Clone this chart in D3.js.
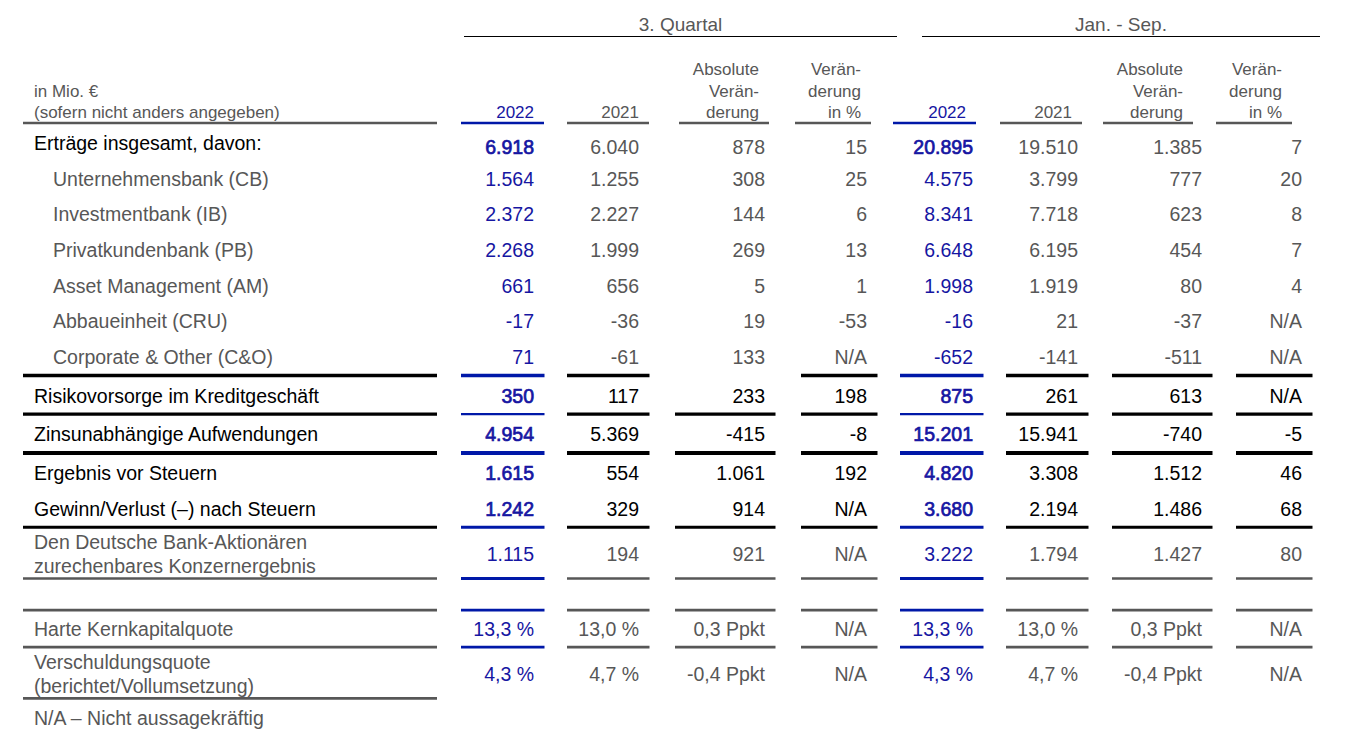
<!DOCTYPE html>
<html><head><meta charset="utf-8">
<script src="https://cdn.jsdelivr.net/npm/d3@7"></script>
<style>html,body{margin:0;padding:0;background:#fff;} svg{display:block;font-family:"Liberation Sans",Arial,sans-serif;}</style>
</head><body><svg id="chart" width="1360" height="737"></svg>
<script>
// ---------------- DATA ----------------
const groups = ["3. Quartal", "Jan. - Sep."];
const columnHeaders = [["2022"], ["2021"], ["Absolute", "Verän-", "derung"], ["Verän-", "derung", "in %"]];
const unitNote = ["in Mio. €", "(sofern nicht anders angegeben)"];
const categories = [
  "Erträge insgesamt, davon:",
  "Unternehmensbank (CB)",
  "Investmentbank (IB)",
  "Privatkundenbank (PB)",
  "Asset Management (AM)",
  "Abbaueinheit (CRU)",
  "Corporate & Other (C&O)",
  "Risikovorsorge im Kreditgeschäft",
  "Zinsunabhängige Aufwendungen",
  "Ergebnis vor Steuern",
  "Gewinn/Verlust (–) nach Steuern",
  "Den Deutsche Bank-Aktionären\nzurechenbares Konzernergebnis",
  "Harte Kernkapitalquote",
  "Verschuldungsquote\n(berichtet/Vollumsetzung)"
];
// row type: "total", "sub", "main", "minor", "ratio"
const rowType = ["total","sub","sub","sub","sub","sub","sub","main","main","main","main","minor","ratio","ratio"];
const q3_2022  = [6918, 1564, 2372, 2268, 661, -17, 71, 350, 4954, 1615, 1242, 1115, 13.3, 4.3];
const q3_2021  = [6040, 1255, 2227, 1999, 656, -36, -61, 117, 5369, 554, 329, 194, 13.0, 4.7];
const q3_abs   = [878, 308, 144, 269, 5, 19, 133, 233, -415, 1061, 914, 921, 0.3, -0.4];
const q3_pct   = [15, 25, 6, 13, 1, -53, null, 198, -8, 192, null, null, null, null];
const ytd_2022 = [20895, 4575, 8341, 6648, 1998, -16, -652, 875, 15201, 4820, 3680, 3222, 13.3, 4.3];
const ytd_2021 = [19510, 3799, 7718, 6195, 1919, 21, -141, 261, 15941, 3308, 2194, 1794, 13.0, 4.7];
const ytd_abs  = [1385, 777, 623, 454, 80, -37, -511, 613, -740, 1512, 1486, 1427, 0.3, -0.4];
const ytd_pct  = [7, 20, 8, 7, 4, null, null, null, -5, 46, 68, 80, null, null];
const naText = "N/A";
const footnote = "N/A – Nicht aussagekräftig";

// ---------------- LAYOUT / STYLE ----------------
const colKeys = ["q3_2022","q3_2021","q3_abs","q3_pct","ytd_2022","ytd_2021","ytd_abs","ytd_pct"];
const colData = [q3_2022, q3_2021, q3_abs, q3_pct, ytd_2022, ytd_2021, ytd_abs, ytd_pct];
const colKind = ["cur","prev","abs","pct","cur","prev","abs","pct"];
const xData = d3.scaleOrdinal(colKeys, [534, 639, 765, 867, 973, 1078, 1202, 1302]);
const xHead = d3.scaleOrdinal(colKeys, [534, 639, 759, 861, 966, 1072, 1183, 1282]);
const segLeft = {cur: 73, prev: 72, abs: 90, pct: 66};
const headSegLeft = {cur: 73, prev: 72, abs: 80, pct: 66};
const groupSpan = [[464, 897], [922, 1320]];
const labelX = {main: 34, sub: 53};
const labelRule = [23, 437];

const FS = 19.5, FH = 17, FT = 19;
const COL = {black: "#000", gray: "#575757", blue: "#0018a8", blueText: "#1616a2"};

const de = d3.formatLocale({decimal: ",", thousands: ".", grouping: [3], currency: ["", ""], minus: "-"});
const fInt = de.format(",d"), f1 = de.format(",.1f");
function fmt(v, i, kind) {
  if (v === null || v === undefined) return naText;
  if (rowType[i] === "ratio") return kind === "abs" ? f1(v) + " Ppkt" : f1(v) + " %";
  return fInt(v);
}

// rules
const rules = [
  {row: 6, side: "below", color: "black", w: 3.6, bw: 3.6, skip: ["q3_abs"]},
  {row: 7, side: "below", color: "black", w: 3.2, bw: 2.2},
  {row: 8, side: "below", color: "black", w: 4, bw: 4},
  {row: 10, side: "below", color: "black", w: 3, bw: 3},
  {row: 11, side: "below", color: "gray", w: 2.7, bw: 3},
  {row: 12, side: "above", color: "gray", w: 2.7, bw: 2.7},
  {row: 12, side: "below", color: "gray", w: 2.7, bw: 2.7},
  {row: 13, side: "below", color: "gray", w: 2.7, labelOnly: true}
];

const twoLine = i => categories[i].includes("\n");
const ruleBetween = (a, b) => rules.some(r => (r.side === "below" && r.row === a) || (r.side === "above" && r.row === b));
const sectionBreak = i => rules.some(r => r.side === "above" && r.row === i) && rules.some(r => r.side === "below" && r.row === i - 1);

const ys = [];
categories.forEach((c, i) => {
  if (i === 0) { ys.push(146.5); return; }
  let y = ys[i - 1] + 35.7;
  if (rowType[i - 1] === "total") y -= 3.7;
  if (ruleBetween(i - 1, i)) y += 3;
  if (twoLine(i) || twoLine(i - 1)) y += 6.5;
  if (sectionBreak(i)) y += 29.5;
  ys.push(y);
});
const halfH = i => 18.5 + (twoLine(i) ? 6 : 0);
const ruleY = r => r.side === "below" ? ys[r.row] + halfH(r.row) : ys[r.row] - halfH(r.row);

const svg = d3.select("#chart");
svg.append("rect").attr("width", 1360).attr("height", 737).attr("fill", "#fff");

// ---------- group titles ----------
const gT = svg.append("g");
groups.forEach((g, k) => {
  const [a, b] = groupSpan[k];
  gT.append("text").attr("x", (a + b) / 2).attr("y", 30.5).attr("text-anchor", "middle")
    .attr("font-size", FT).attr("fill", COL.gray).text(g);
  gT.append("line").attr("x1", a).attr("x2", b).attr("y1", 36.5).attr("y2", 36.5)
    .attr("stroke", COL.black).attr("stroke-width", 1);
});

// ---------- header ----------
const headBase = 118, headStep = 21.5, headRuleY = 123;
const gH = svg.append("g");
unitNote.forEach((t, j) => {
  gH.append("text").attr("x", labelX.main).attr("y", headBase - (unitNote.length - 1 - j) * headStep)
    .attr("font-size", FH).attr("fill", COL.gray).text(t);
});
gH.append("line").attr("x1", labelRule[0]).attr("x2", labelRule[1]).attr("y1", headRuleY).attr("y2", headRuleY)
  .attr("stroke", COL.gray).attr("stroke-width", 2.3);
colKeys.forEach((k, ci) => {
  const lines = columnHeaders[ci % 4];
  const kind = colKind[ci];
  lines.forEach((t, j) => {
    gH.append("text").attr("x", xHead(k)).attr("y", headBase - (lines.length - 1 - j) * headStep)
      .attr("text-anchor", "end").attr("font-size", FH)
      .attr("fill", kind === "cur" ? COL.blueText : COL.gray).text(t);
  });
  gH.append("line").attr("x1", xHead(k) - headSegLeft[kind]).attr("x2", xHead(k) + 10)
    .attr("y1", headRuleY).attr("y2", headRuleY)
    .attr("stroke", kind === "cur" ? COL.blue : COL.gray).attr("stroke-width", 2.3);
});

// ---------- body rows ----------
const gB = svg.append("g");
const labelColor = t => (t === "total" || t === "main") ? COL.black : COL.gray;
const valueColor = t => t === "main" ? COL.black : COL.gray;
const isBold = t => t === "total" || t === "main";
categories.forEach((c, i) => {
  const t = rowType[i];
  const lines = c.split("\n");
  const lx = t === "sub" ? labelX.sub : labelX.main;
  lines.forEach((ln, j) => {
    const cy = ys[i] + (j - (lines.length - 1) / 2) * 24 - (t === "total" ? 4 : 0);
    gB.append("text").attr("x", lx).attr("y", cy + 0.36 * FS).attr("font-size", FS)
      .attr("fill", labelColor(t)).text(ln);
  });
  colKeys.forEach((k, ci) => {
    const kind = colKind[ci];
    const v = colData[ci][i];
    const bold = kind === "cur" && isBold(t);
    const fill = kind === "cur" ? COL.blueText : valueColor(t);
    gB.append("text").attr("x", xData(k)).attr("y", ys[i] + 0.36 * FS).attr("text-anchor", "end")
      .attr("font-size", FS)
      .attr("fill", fill)
      .attr("stroke", bold ? fill : "none")
      .attr("stroke-width", bold ? 0.7 : 0)
      .text(fmt(v, i, kind));
  });
});

// ---------- rules ----------
const gR = svg.append("g");
rules.forEach(r => {
  const y = ruleY(r);
  const c = COL[r.color];
  gR.append("line").attr("x1", labelRule[0]).attr("x2", labelRule[1]).attr("y1", y).attr("y2", y)
    .attr("stroke", c).attr("stroke-width", r.w);
  if (r.labelOnly) return;
  colKeys.forEach((k, ci) => {
    if (r.skip && r.skip.includes(k)) return;
    const kind = colKind[ci];
    gR.append("line").attr("x1", xData(k) - segLeft[kind]).attr("x2", xData(k) + 10.5)
      .attr("y1", y).attr("y2", y)
      .attr("stroke", kind === "cur" ? COL.blue : c)
      .attr("stroke-width", kind === "cur" ? r.bw : r.w);
  });
});

// ---------- footnote ----------
const lastRule = ruleY(rules[rules.length - 1]);
svg.append("text").attr("x", labelX.main).attr("y", lastRule + 19.5 + 0.36 * FS).attr("font-size", FS)
  .attr("fill", COL.gray).text(footnote);
</script></body></html>
